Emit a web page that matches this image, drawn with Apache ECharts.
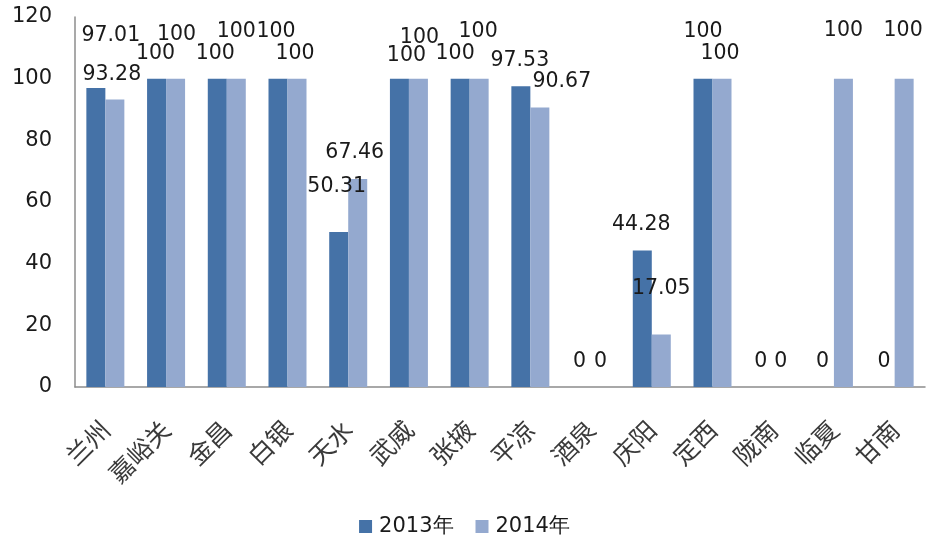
<!DOCTYPE html>
<html>
<head>
<meta charset="utf-8">
<script src="https://cdn.jsdelivr.net/npm/echarts@6/dist/echarts.min.js"></script>
<style>
  html, body { margin: 0; padding: 0; background: #fff; }
  #chart { width: 929px; height: 537px; }
</style>
</head>
<body>
<div id="chart"></div>
<script>
// Cities along the category axis
const categories = ['兰州', '嘉峪关', '金昌', '白银', '天水', '武威', '张掖', '平凉', '酒泉', '庆阳', '定西', '陇南', '临夏', '甘南'];
// Values per year
const values2013 = [97.01, 100, 100, 100, 50.31, 100, 100, 97.53, 0, 44.28, 100, 0, 0, 0];
const values2014 = [93.28, 100, 100, 100, 67.46, 100, 100, 90.67, 0, 17.05, 100, 0, 100, 100];
const seriesNames = ['2013年', '2014年'];
const yTicks = { min: 0, max: 120, interval: 20 };

// Hand-placed label nudges, [dx, dy] from the default "top" spot
const labelOffsets2013 = [[15, -37], [-1, -9], [-2, -9], [-2, -31], [-2, -30], [7, -7], [-5, -9], [-1, -10], [-2, -10], [-1, -10], [0, -31], [-3, -10], [-2, -10], [-1, -10]];
const labelOffsets2014 = [[-3, -9], [1, -28], [0, -31], [-2, -9], [-3, -11], [1, -25], [-1, -31], [22, -10], [0, -10], [0, -30], [-2, -9], [-2, -10], [0, -32], [-1, -32]];

const labelFont = { fontFamily: 'DejaVu Sans', fontSize: 20.5, color: '#1a1a1a' };

function buildData(values, offsets) {
  return values.map((v, i) => ({
    value: v,
    label: { offset: offsets[i] }
  }));
}

const chart = echarts.init(document.getElementById('chart'), null, { renderer: 'canvas' });
chart.setOption({
  animation: false,
  backgroundColor: '#ffffff',
  grid: { left: 75, right: 4, top: 17, bottom: 150, containLabel: false },
  legend: {
    data: seriesNames,
    top: 511,
    left: 'center',
    icon: 'rect',
    itemWidth: 13,
    itemHeight: 13,
    itemGap: 22,
    textStyle: { fontFamily: 'DejaVu Sans', fontSize: 21, color: '#1a1a1a', padding: [0, 0, 0, 2] }
  },
  xAxis: {
    type: 'category',
    data: categories,
    axisLine: { lineStyle: { color: '#8c8c8c', width: 1.5 } },
    axisTick: { show: false },
    axisLabel: {
      rotate: 45,
      interval: 0,
      margin: 38,
      fontFamily: 'Noto Sans CJK SC',
      fontSize: 25,
      color: '#3a3a3a'
    },
    splitLine: { show: false }
  },
  yAxis: {
    type: 'value',
    min: yTicks.min,
    max: yTicks.max,
    interval: yTicks.interval,
    axisLine: { show: true, lineStyle: { color: '#8c8c8c', width: 1.5 } },
    axisTick: { show: false },
    axisLabel: { margin: 23, fontFamily: 'DejaVu Sans', fontSize: 21, color: '#1a1a1a' },
    splitLine: { show: false }
  },
  series: [
    {
      name: seriesNames[0],
      type: 'bar',
      barWidth: 19,
      barGap: '0%',
      itemStyle: { color: '#4572a7' },
      label: Object.assign({ show: true, position: 'top', distance: 5 }, labelFont),
      data: buildData(values2013, labelOffsets2013)
    },
    {
      name: seriesNames[1],
      type: 'bar',
      barWidth: 19,
      barGap: '0%',
      itemStyle: { color: '#94a9cf' },
      label: Object.assign({ show: true, position: 'top', distance: 5 }, labelFont),
      data: buildData(values2014, labelOffsets2014)
    }
  ]
});
</script>
</body>
</html>
